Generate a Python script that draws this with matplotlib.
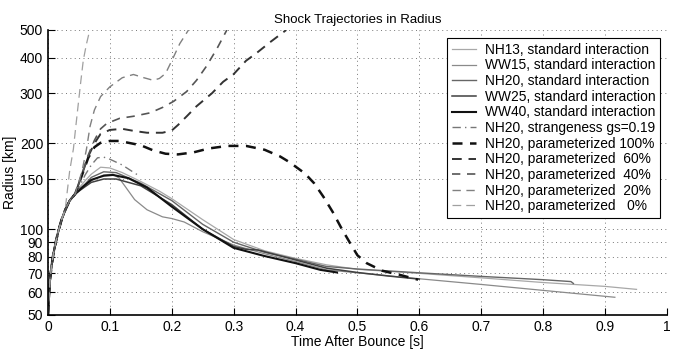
import matplotlib
matplotlib.use("Agg")
import matplotlib.pyplot as plt
from matplotlib.ticker import FixedLocator, NullLocator, FormatStrFormatter

plt.rcParams["font.family"] = ["Liberation Sans", "DejaVu Sans"]

# common early rise (t [s], radius [km])
rise_t = [0.0, 0.0015, 0.003, 0.006, 0.0087, 0.013, 0.017, 0.022, 0.028, 0.035, 0.044]
rise_r = [50, 58, 66, 75, 82, 91, 99, 108, 117, 126, 133]

# standard interaction runs
nh13_t = [0.052, 0.06, 0.07, 0.085, 0.1, 0.12, 0.15, 0.18, 0.2, 0.25, 0.3, 0.35, 0.4, 0.45, 0.5, 0.6, 0.7, 0.8, 0.9, 0.951]
nh13_r = [141, 148, 156, 165, 164, 158, 147, 136, 128, 108, 92, 84, 79, 75, 72.3, 70, 67.5, 65, 63, 61.5]

ww15_t = [0.052, 0.06, 0.075, 0.09, 0.105, 0.115, 0.125, 0.14, 0.16, 0.185, 0.2, 0.22, 0.25, 0.3, 0.35, 0.4, 0.45,
          0.5, 0.6, 0.7, 0.8, 0.916]
ww15_r = [138, 143, 150, 155, 156, 151, 141, 127, 117, 110.5, 109, 106, 98, 88, 82, 77, 72, 70.3, 67, 64, 61, 57.7]

nh20_t = [0.052, 0.06, 0.07, 0.09, 0.11, 0.15, 0.2, 0.25, 0.3, 0.35, 0.4, 0.45, 0.5, 0.6, 0.7, 0.8, 0.845, 0.849]
nh20_r = [139, 144, 152, 159, 158, 145, 126, 104, 90, 83, 78.5, 74, 72.5, 70.3, 68.3, 66.5, 65.5, 64.5]

ww25_t = [0.052, 0.06, 0.07, 0.09, 0.11, 0.15, 0.2, 0.25, 0.3, 0.32, 0.34, 0.4, 0.45, 0.5, 0.55, 0.6]
ww25_r = [137, 141, 146, 150, 150, 142, 122, 100, 87, 85, 84.5, 78, 73, 70.5, 68.5, 66.8]

ww40_t = [0.052, 0.06, 0.07, 0.09, 0.105, 0.13, 0.16, 0.2, 0.25, 0.3, 0.35, 0.4, 0.44, 0.467]
ww40_r = [138, 143, 149, 154, 155, 151, 140, 120, 100, 86, 80.5, 76, 72, 70.5]

# strangeness run
strange_t = [0.05, 0.06, 0.07, 0.08, 0.09, 0.1, 0.12, 0.135, 0.145]
strange_r = [140, 155, 168, 178, 179, 176, 168, 160, 155]

# parameterized runs
p100_t = [0.055, 0.065, 0.075, 0.085, 0.1, 0.115, 0.13, 0.15, 0.17, 0.19, 0.21, 0.235, 0.26, 0.29, 0.32, 0.35,
          0.375, 0.39, 0.415, 0.43, 0.445, 0.46, 0.475, 0.49, 0.5, 0.515, 0.54, 0.57, 0.598]
p100_r = [155, 178, 194, 201, 204, 204, 201, 197, 189, 184, 183, 186, 192, 196, 196, 190,
          180, 172, 157, 145, 130, 115, 100, 88, 81, 76, 71.5, 69, 66.5]

p60_t = [0.055, 0.065, 0.075, 0.085, 0.1, 0.12, 0.14, 0.16, 0.185, 0.2, 0.21, 0.225, 0.24, 0.265, 0.283, 0.3,
         0.32, 0.337, 0.36, 0.385]
p60_r = [156, 180, 200, 216, 223, 225, 221, 218, 218, 222, 232, 250, 270, 300, 329, 350, 390, 415, 455, 500]

p40_t = [0.055, 0.065, 0.075, 0.085, 0.095, 0.116, 0.138, 0.165, 0.186, 0.203, 0.224, 0.24, 0.256, 0.273, 0.289]
p40_r = [156, 182, 205, 225, 235, 245, 249, 256, 268, 281, 304, 333, 373, 430, 500]

p20_t = [0.055, 0.062, 0.068, 0.075, 0.085, 0.1, 0.12, 0.138, 0.155, 0.17, 0.18, 0.19, 0.2, 0.213, 0.227]
p20_r = [160, 190, 230, 262, 292, 316, 340, 349, 340, 333, 338, 352, 390, 448, 500]

p0_t = [0.028, 0.031, 0.035, 0.041, 0.045, 0.049, 0.053, 0.057, 0.062, 0.068]
p0_r = [118, 135, 160, 191, 230, 276, 330, 391, 445, 505]

y_ticks = [50, 60, 70, 80, 90, 100, 150, 200, 300, 400, 500]
x_ticks = [0, 0.1, 0.2, 0.3, 0.4, 0.5, 0.6, 0.7, 0.8, 0.9, 1]


def full(t, r):
    # prepend the shared early part that is cut at the start time of t
    pre = [(a, b) for a, b in zip(rise_t, rise_r) if a < t[0]]
    return [a for a, _ in pre] + t, [b for _, b in pre] + r


fig = plt.figure(figsize=(6.77, 3.55), dpi=100)
ax = fig.add_axes([0.0709, 0.1127, 0.9141, 0.8028])

ax.plot(*full(nh13_t, nh13_r), color="#a8a8a8", lw=0.9, label="NH13, standard interaction")
ax.plot(*full(ww15_t, ww15_r), color="#8a8a8a", lw=0.9, label="WW15, standard interaction")
ax.plot(*full(nh20_t, nh20_r), color="#666666", lw=1.0, label="NH20, standard interaction")
ax.plot(*full(ww25_t, ww25_r), color="#404040", lw=1.1, label="WW25, standard interaction")
ax.plot(*full(ww40_t, ww40_r), color="#111111", lw=1.5, label="WW40, standard interaction")
ax.plot(*full(strange_t, strange_r), color="#777777", lw=1.0, ls=(0, (6, 3, 1, 3)),
        label="NH20, strangeness gs=0.19")
ax.plot(*full(p100_t, p100_r), color="#111111", lw=1.8, ls=(0, (4, 3)), label="NH20, parameterized 100%")
ax.plot(*full(p60_t, p60_r), color="#333333", lw=1.4, ls=(0, (5, 3.5)), label="NH20, parameterized  60%")
ax.plot(*full(p40_t, p40_r), color="#555555", lw=1.2, ls=(0, (5, 4)), label="NH20, parameterized  40%")
ax.plot(*full(p20_t, p20_r), color="#808080", lw=1.0, ls=(0, (6, 4)), label="NH20, parameterized  20%")
ax.plot(*full(p0_t, p0_r), color="#a0a0a0", lw=0.9, ls=(0, (7, 4)), label="NH20, parameterized   0%")

ax.set_yscale("log")
ax.set_ylim(50, 500)
ax.set_xlim(0, 1)
ax.yaxis.set_major_locator(FixedLocator(y_ticks))
ax.yaxis.set_minor_locator(NullLocator())
ax.yaxis.set_major_formatter(FormatStrFormatter("%d"))
ax.set_xticks(x_ticks)
ax.xaxis.set_major_formatter(FormatStrFormatter("%g"))
ax.tick_params(direction="in", length=5, width=0.8, labelsize=10)

ax.grid(True, color="#777777", ls=(0, (1, 3.5)), lw=0.7)
for s in ["top", "right"]:
    ax.spines[s].set_visible(False)
for s in ["left", "bottom"]:
    ax.spines[s].set_linewidth(1.2)

ax.set_title("Shock Trajectories in Radius", fontsize=9.5, pad=5)
ax.set_xlabel("Time After Bounce [s]", fontsize=10, labelpad=1)
ax.set_ylabel("Radius [km]", fontsize=10, labelpad=2)

leg = ax.legend(loc="upper right", bbox_to_anchor=(0.975, 0.893), bbox_transform=fig.transFigure,
                fontsize=9.9, frameon=True, fancybox=False, borderpad=0.35, labelspacing=0.12,
                handlelength=1.75, handletextpad=0.65, borderaxespad=0)
leg.get_frame().set_edgecolor("black")
leg.get_frame().set_linewidth(0.8)
leg.get_frame().set_alpha(1)

fig.savefig("out.png", dpi=100)
